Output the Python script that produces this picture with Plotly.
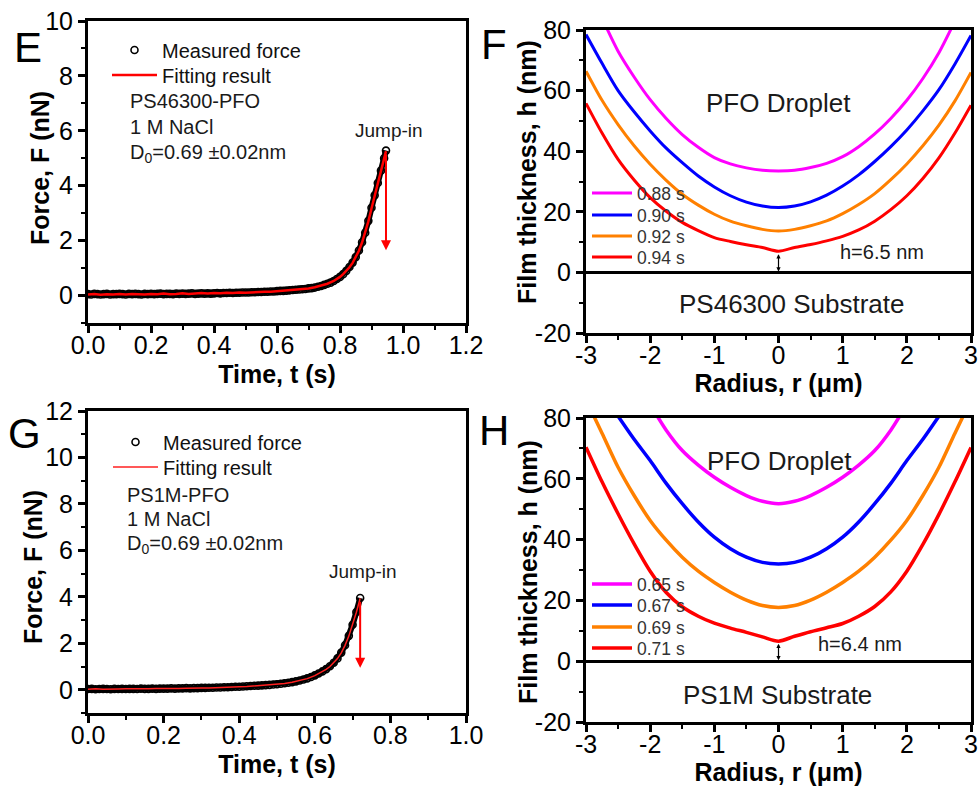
import plotly.graph_objects as go

# ---------------- Panel E data ----------------
t_E_meas = [round(0.01 * i, 2) for i in range(95)] + [0.946]
F_E_meas = [0.05, 0.04, 0.06, 0.05, 0.04, 0.05, 0.06, 0.04, 0.05, 0.05,
            0.06, 0.05, 0.04, 0.06, 0.05, 0.06, 0.05, 0.04, 0.06, 0.05,
            0.06, 0.05, 0.06, 0.07, 0.05, 0.06, 0.06, 0.05, 0.07, 0.06,
            0.07, 0.06, 0.07, 0.08, 0.06, 0.07, 0.08, 0.07, 0.08, 0.07,
            0.08, 0.09, 0.08, 0.09, 0.09, 0.10, 0.09, 0.10, 0.10, 0.11,
            0.11, 0.11, 0.12, 0.12, 0.13, 0.13, 0.14, 0.14, 0.15, 0.15,
            0.16, 0.17, 0.17, 0.18, 0.19, 0.20, 0.21, 0.22, 0.23, 0.24,
            0.26, 0.27, 0.29, 0.32, 0.35, 0.39, 0.43, 0.47, 0.53, 0.60,
            0.68, 0.78, 0.90, 1.04, 1.20, 1.40, 1.64, 1.94, 2.29, 2.72,
            3.20, 3.65, 4.10, 4.55, 5.00, 5.28]
t_E_fit = [0.00, 0.02, 0.04, 0.06, 0.08, 0.10, 0.12, 0.14, 0.16, 0.18,
           0.20, 0.22, 0.24, 0.26, 0.28, 0.30, 0.32, 0.34, 0.36, 0.38,
           0.40, 0.42, 0.44, 0.46, 0.48, 0.50, 0.52, 0.54, 0.56, 0.58,
           0.60, 0.62, 0.64, 0.66, 0.68, 0.70, 0.72, 0.74, 0.76, 0.78,
           0.79, 0.80, 0.81, 0.82, 0.83, 0.84, 0.85, 0.86, 0.87, 0.88,
           0.89, 0.90, 0.91, 0.92, 0.93, 0.94, 0.946]
F_E_fit = [0.04, 0.06, 0.03, 0.05, 0.04, 0.06, 0.04, 0.06, 0.05, 0.04,
           0.06, 0.05, 0.07, 0.05, 0.06, 0.08, 0.06, 0.07, 0.09, 0.07,
           0.09, 0.08, 0.10, 0.09, 0.11, 0.10, 0.12, 0.12, 0.14, 0.14,
           0.16, 0.17, 0.19, 0.21, 0.23, 0.26, 0.30, 0.36, 0.43, 0.53,
           0.60, 0.68, 0.78, 0.90, 1.03, 1.19, 1.39, 1.63, 1.93, 2.28,
           2.70, 3.17, 3.63, 4.08, 4.53, 4.98, 5.26]

# ---------------- Panel G data ----------------
t_G_meas = [round(0.01 * i, 2) for i in range(73)]
F_G_meas = [0.03, 0.04, 0.02, 0.03, 0.04, 0.03, 0.02, 0.04, 0.03, 0.04,
            0.03, 0.04, 0.04, 0.03, 0.05, 0.04, 0.04, 0.05, 0.04, 0.05,
            0.05, 0.05, 0.06, 0.05, 0.06, 0.06, 0.07, 0.06, 0.07, 0.07,
            0.08, 0.08, 0.09, 0.09, 0.10, 0.10, 0.11, 0.11, 0.12, 0.13,
            0.13, 0.14, 0.15, 0.16, 0.17, 0.18, 0.19, 0.20, 0.21, 0.23,
            0.24, 0.26, 0.28, 0.30, 0.33, 0.36, 0.40, 0.44, 0.49, 0.55,
            0.62, 0.70, 0.79, 0.89, 1.01, 1.16, 1.35, 1.60, 1.92, 2.32,
            2.80, 3.35, 3.95]
t_G_fit = [0.00, 0.02, 0.04, 0.06, 0.08, 0.10, 0.12, 0.14, 0.16, 0.18,
           0.20, 0.22, 0.24, 0.26, 0.28, 0.30, 0.32, 0.34, 0.36, 0.38,
           0.40, 0.42, 0.44, 0.46, 0.48, 0.50, 0.52, 0.54, 0.56, 0.58,
           0.60, 0.61, 0.62, 0.63, 0.64, 0.65, 0.66, 0.67, 0.68, 0.69,
           0.70, 0.71, 0.72]
F_G_fit = [0.02, 0.04, 0.02, 0.04, 0.03, 0.04, 0.03, 0.05, 0.04, 0.05,
           0.04, 0.06, 0.05, 0.07, 0.06, 0.08, 0.08, 0.10, 0.10, 0.12,
           0.13, 0.14, 0.16, 0.18, 0.20, 0.23, 0.27, 0.32, 0.39, 0.48,
           0.61, 0.69, 0.78, 0.88, 1.00, 1.15, 1.34, 1.59, 1.91, 2.31,
           2.79, 3.34, 3.94]

# ---------------- Panels F / H data ----------------
r_grid = [-3.0, -2.75, -2.5, -2.25, -2.0, -1.75, -1.5, -1.25, -1.0, -0.75, -0.5, -0.25,
          0.0, 0.25, 0.5, 0.75, 1.0, 1.25, 1.5, 1.75, 2.0, 2.25, 2.5, 2.75, 3.0]

F_labels = ["0.88 s", "0.90 s", "0.92 s", "0.94 s"]
F_h = [
    [None, 84.0, 73.0, 64.5, 57.0, 50.8, 45.5, 41.3, 37.9, 35.8, 34.5, 33.7,
     33.5, 33.7, 34.6, 36.0, 38.2, 41.5, 45.7, 50.8, 56.8, 64.0, 72.5, 83.0, None],
    [78.5, 69.0, 60.0, 53.0, 46.7, 41.0, 36.2, 31.8, 28.2, 25.3, 23.2, 21.9,
     21.4, 21.9, 23.3, 25.5, 28.5, 32.2, 36.6, 41.5, 47.0, 53.3, 60.3, 68.8, 78.2],
    [66.4, 56.8, 48.8, 41.8, 35.7, 30.4, 25.8, 22.2, 19.2, 16.9, 15.4, 14.2,
     13.7, 14.2, 15.4, 17.0, 19.4, 22.4, 26.0, 30.6, 35.8, 41.8, 48.6, 56.6, 66.0],
    [55.8, 46.0, 37.3, 30.5, 24.7, 20.2, 16.5, 13.8, 11.5, 10.2, 9.1, 8.2,
     7.0, 8.2, 9.2, 10.4, 11.9, 14.0, 16.9, 20.7, 25.3, 31.0, 37.8, 46.0, 55.2],
]
H_labels = ["0.65 s", "0.67 s", "0.69 s", "0.71 s"]
H_h = [
    [None, None, None, None, 84.5, 76.0, 69.3, 64.5, 60.5, 57.2, 54.5, 52.6,
     51.8, 52.6, 54.5, 57.2, 60.5, 64.5, 69.3, 76.0, 84.5, None, None, None, None],
    [None, None, 80.6, 73.0, 66.0, 58.5, 51.8, 45.8, 40.8, 37.0, 34.2, 32.5,
     32.0, 32.5, 34.2, 37.0, 40.8, 45.8, 51.8, 58.5, 66.0, 73.0, 80.6, None, None],
    [86.0, 75.0, 63.8, 54.5, 46.3, 39.8, 34.2, 29.6, 25.9, 22.7, 20.1, 18.3,
     17.7, 18.3, 20.1, 22.7, 25.9, 29.6, 34.2, 39.8, 46.3, 54.5, 63.8, 75.0, 86.0],
    [70.4, 59.0, 48.5, 38.6, 29.6, 22.6, 17.9, 14.8, 12.5, 10.9, 9.5, 8.0,
     6.6, 8.2, 9.7, 11.0, 12.4, 14.8, 18.0, 22.8, 29.6, 38.4, 48.3, 59.0, 70.3],
]
curve_colors = ["#FF00FF", "#0000FF", "#FF8000", "#FF0000"]

# tick labels
tE_ticks = [0.0, 0.2, 0.4, 0.6, 0.8, 1.0, 1.2]
tE_text = ["0.0", "0.2", "0.4", "0.6", "0.8", "1.0", "1.2"]
fE_ticks = [0, 2, 4, 6, 8, 10]
tG_ticks = [0.0, 0.2, 0.4, 0.6, 0.8, 1.0]
tG_text = ["0.0", "0.2", "0.4", "0.6", "0.8", "1.0"]
fG_ticks = [0, 2, 4, 6, 8, 10, 12]
r_ticks = [-3, -2, -1, 0, 1, 2, 3]
r_text = ["-3", "-2", "-1", "0", "1", "2", "3"]
h_ticks = [-20, 0, 20, 40, 60, 80]
h_text = ["-20", "0", "20", "40", "60", "80"]

W, H = 980, 788
FONT = "Liberation Sans, Arial, sans-serif"


def px(x):
    return x / W


def py(y):
    return 1 - y / H


fig = go.Figure()
legend_layout = {}


def leg(name, left, center, size, color, itemwidth):
    legend_layout[name] = dict(x=px(left), y=py(center), xanchor="left", yanchor="middle",
                               bgcolor="rgba(0,0,0,0)", borderwidth=0,
                               font=dict(family=FONT, size=size, color=color),
                               itemwidth=itemwidth, tracegroupgap=0)
    return name


# Panel E (dense measured points drawn as a thick band + open circles)
fig.add_trace(go.Scatter(x=t_E_meas, y=F_E_meas, mode="lines", showlegend=False, hoverinfo="skip",
                         line=dict(color="black", width=6), xaxis="x", yaxis="y"))
fig.add_trace(go.Scatter(x=t_E_meas, y=F_E_meas, mode="markers", name="Measured force",
                         marker=dict(symbol="circle-open", size=7, color="black", line=dict(width=1.6)),
                         xaxis="x", yaxis="y", legend=leg("legend", 107, 50, 20, "#111", 45)))
fig.add_trace(go.Scatter(x=t_E_fit, y=F_E_fit, mode="lines", name="Fitting result",
                         line=dict(color="#FF0000", width=2.5),
                         xaxis="x", yaxis="y", legend=leg("legend2", 107, 75, 20, "#111", 45)))
# Panel F
F_leg_y = [193, 215, 236, 257]
for i, (lab, hv, c) in enumerate(zip(F_labels, F_h, curve_colors)):
    fig.add_trace(go.Scatter(x=r_grid, y=hv, mode="lines", name=lab,
                             line=dict(color=c, width=3, shape="spline", smoothing=0.8),
                             xaxis="x2", yaxis="y2",
                             legend=leg("legend%d" % (3 + i), 587, F_leg_y[i], 17.5, "#333", 40)))
# Panel G
fig.add_trace(go.Scatter(x=t_G_meas, y=F_G_meas, mode="lines", showlegend=False, hoverinfo="skip",
                         line=dict(color="black", width=6), xaxis="x3", yaxis="y3"))
fig.add_trace(go.Scatter(x=t_G_meas, y=F_G_meas, mode="markers", name="Measured force",
                         marker=dict(symbol="circle-open", size=7, color="black", line=dict(width=1.6)),
                         xaxis="x3", yaxis="y3", legend=leg("legend7", 108, 442, 20, "#111", 45)))
fig.add_trace(go.Scatter(x=t_G_fit, y=F_G_fit, mode="lines", name="Fitting result",
                         line=dict(color="#FF2020", width=1.5),
                         xaxis="x3", yaxis="y3", legend=leg("legend8", 108, 467, 20, "#111", 45)))
# Panel H
H_leg_y = [584, 605, 627, 648]
for i, (lab, hv, c) in enumerate(zip(H_labels, H_h, curve_colors)):
    fig.add_trace(go.Scatter(x=r_grid, y=hv, mode="lines", name=lab,
                             line=dict(color=c, width=3.5, shape="spline", smoothing=0.8),
                             xaxis="x4", yaxis="y4",
                             legend=leg("legend%d" % (9 + i), 587, H_leg_y[i], 17.5, "#333", 40)))


def axis(domain, rng, tickvals, ticktext, minor_dtick, minor_tick0, title, standoff, anchor,
         zeroline=False, label_shift=0):
    return dict(domain=domain, range=rng, anchor=anchor, automargin=False,
                tickmode="array", tickvals=tickvals, ticktext=ticktext,
                ticks="outside", ticklen=7, tickwidth=2.5, tickcolor="black",
                ticklabelstandoff=label_shift,
                minor=dict(tickmode="linear", tick0=minor_tick0, dtick=minor_dtick,
                           ticks="outside", ticklen=4, tickwidth=2, tickcolor="black"),
                showline=True, linewidth=3, linecolor="black", mirror=True,
                showgrid=False, zeroline=zeroline, zerolinewidth=3, zerolinecolor="black",
                tickfont=dict(family=FONT, size=25, color="black"),
                title=dict(text=title, standoff=standoff,
                           font=dict(family=FONT, size=25, color="black", weight="bold")))


xE = [px(88), px(466)]
xF = [px(586), px(971)]
fig.update_layout(
    template="none",
    width=W, height=H, autosize=False,
    margin=dict(l=0, r=0, t=0, b=0, pad=0),
    paper_bgcolor="white", plot_bgcolor="white",
    font=dict(family=FONT, color="black"),
    xaxis=axis(xE, [0, 1.2], tE_ticks, tE_text, 0.1, 0, "Time, t (s)", 8, "y", label_shift=-9),
    yaxis=axis([py(323), py(21)], [-1, 10], fE_ticks, [str(v) for v in fE_ticks], 1, -1, "", 0, "x"),
    xaxis2=axis(xF, [-3, 3], r_ticks, r_text, 0.5, -3, "Radius, r (μm)", 4, "y2", label_shift=-9),
    yaxis2=axis([py(333), py(30)], [-20, 80], h_ticks, h_text, 10, -20, "", 0, "x2", zeroline=True),
    xaxis3=axis(xE, [0, 1.0], tG_ticks, tG_text, 0.1, 0, "Time, t (s)", 8, "y3", label_shift=-9),
    yaxis3=axis([py(713), py(411)], [-1, 12], fG_ticks, [str(v) for v in fG_ticks], 1, -1, "", 0, "x3"),
    xaxis4=axis(xF, [-3, 3], r_ticks, r_text, 0.5, -3, "Radius, r (μm)", 4, "y4", label_shift=-9),
    yaxis4=axis([py(722), py(418)], [-20, 80], h_ticks, h_text, 10, -20, "", 0, "x4", zeroline=True),
    showlegend=True,
    **legend_layout,
)

ann = []
# vertical axis titles (placed to match the reference exactly)
for txt, x, y in [("Force, F (nN)", 40, 168), ("Film thickness, h (nm)", 527, 172),
                  ("Force, F (nN)", 33, 567), ("Film thickness, h (nm)", 528, 572)]:
    ann.append(dict(text=txt, x=px(x), y=py(y), xref="paper", yref="paper", textangle=-90,
                    xanchor="center", yanchor="middle", showarrow=False,
                    font=dict(family=FONT, size=25, color="black", weight="bold")))
# panel letters
for letter, x, y in [("E", 12, 47), ("F", 479, 45), ("G", 6, 433), ("H", 477, 431)]:
    ann.append(dict(text=letter, x=px(x), y=py(y), xref="paper", yref="paper", xanchor="left",
                    yanchor="middle", showarrow=False, font=dict(family=FONT, size=42, color="black")))

# panel E texts
for txt, yy in [("PS46300-PFO", 7.08), ("1 M NaCl", 6.13), ("D<sub>0</sub>=0.69 ±0.02nm", 5.18)]:
    ann.append(dict(text=txt, x=0.127, y=yy, xref="x", yref="y", xanchor="left", yanchor="middle",
                    showarrow=False, font=dict(family=FONT, size=20, color="#1a1a1a")))
ann.append(dict(text="Jump-in", x=0.955, y=6.0, xref="x", yref="y", showarrow=False,
                font=dict(family=FONT, size=19, color="#1a1a1a")))
ann.append(dict(text="", x=0.946, y=1.65, ax=0.946, ay=5.2, xref="x", yref="y", axref="x", ayref="y",
                showarrow=True, arrowhead=2, arrowsize=1, arrowwidth=2, arrowcolor="#FF0000"))

# panel G texts
for txt, yy in [("PS1M-PFO", 8.37), ("1 M NaCl", 7.34), ("D<sub>0</sub>=0.69 ±0.02nm", 6.25)]:
    ann.append(dict(text=txt, x=0.098, y=yy, xref="x3", yref="y3", xanchor="left", yanchor="middle",
                    showarrow=False, font=dict(family=FONT, size=20, color="#1a1a1a")))
ann.append(dict(text="Jump-in", x=0.727, y=5.1, xref="x3", yref="y3", showarrow=False,
                font=dict(family=FONT, size=19, color="#1a1a1a")))
ann.append(dict(text="", x=0.72, y=0.95, ax=0.72, ay=3.85, xref="x3", yref="y3", axref="x3", ayref="y3",
                showarrow=True, arrowhead=2, arrowsize=1, arrowwidth=2, arrowcolor="#FF0000"))

# panel F texts
ann.append(dict(text="PFO Droplet", x=0.0, y=56, xref="x2", yref="y2", showarrow=False,
                font=dict(family=FONT, size=26, color="#1a1a1a")))
ann.append(dict(text="PS46300 Substrate", x=0.21, y=-10.5, xref="x2", yref="y2", showarrow=False,
                font=dict(family=FONT, size=26, color="#1a1a1a")))
ann.append(dict(text="h=6.5 nm", x=1.61, y=6.6, xref="x2", yref="y2", showarrow=False,
                font=dict(family=FONT, size=20, color="#1a1a1a")))
ann.append(dict(text="", x=0, y=0.3, ax=0, ay=6.5, xref="x2", yref="y2", axref="x2", ayref="y2",
                showarrow=True, arrowhead=2, arrowside="end+start", arrowsize=0.7, arrowwidth=1.2,
                arrowcolor="black"))
# panel H texts
ann.append(dict(text="PFO Droplet", x=0.02, y=65.8, xref="x4", yref="y4", showarrow=False,
                font=dict(family=FONT, size=26, color="#1a1a1a")))
ann.append(dict(text="PS1M Substrate", x=-0.02, y=-11, xref="x4", yref="y4", showarrow=False,
                font=dict(family=FONT, size=26, color="#1a1a1a")))
ann.append(dict(text="h=6.4 nm", x=1.27, y=5.5, xref="x4", yref="y4", showarrow=False,
                font=dict(family=FONT, size=20, color="#1a1a1a")))
ann.append(dict(text="", x=0, y=0.3, ax=0, ay=6.2, xref="x4", yref="y4", axref="x4", ayref="y4",
                showarrow=True, arrowhead=2, arrowside="end+start", arrowsize=0.7, arrowwidth=1.2,
                arrowcolor="black"))

fig.update_layout(annotations=ann)
fig.write_html("out.html")
